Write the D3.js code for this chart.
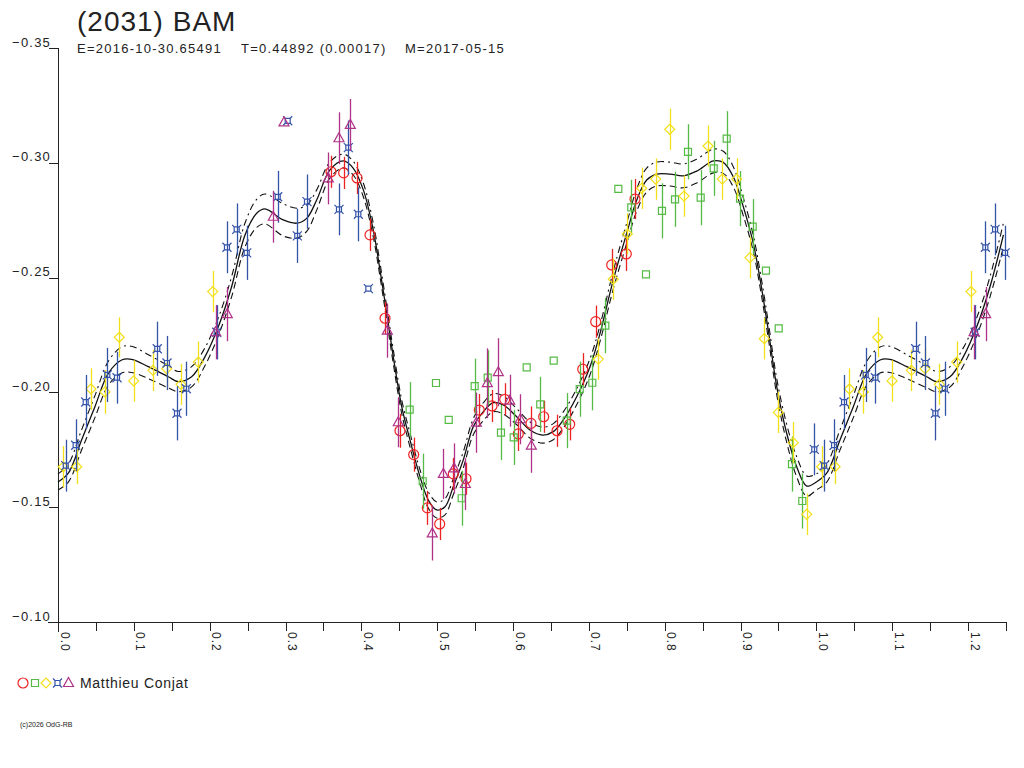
<!DOCTYPE html>
<html lang="en">
<head>
<meta charset="UTF-8">
<title>(2031) BAM</title>
<script src="https://d3js.org/d3.v7.min.js"></script>
<style>
  body { margin: 0; background: #fff; }
  svg { display: block; }
  text { font-family: "Liberation Sans", Arial, sans-serif; fill: #222; }
  .axis path, .axis line { stroke: #222; shape-rendering: crispEdges; }
</style>
</head>
<body>
<svg id="chart" width="1024" height="768"></svg>
<script>
// ---- data ----
const title = "(2031) BAM";
const subtitle = ["E=2016-10-30.65491", "T=0.44892 (0.00017)", "M=2017-05-15"];
const observer = "Matthieu Conjat";
const credit = "(c)2026 OdG-RB";

const yTicks = [-0.35, -0.30, -0.25, -0.20, -0.15, -0.10];
const xTicks = [0.0, 0.1, 0.2, 0.3, 0.4, 0.5, 0.6, 0.7, 0.8, 0.9, 1.0, 1.1, 1.2];
const xMinorTicks = [0.05, 0.15, 0.25, 0.35, 0.45, 0.55, 0.65, 0.75, 0.85, 0.95, 1.05, 1.15, 1.25];

// session points: [phase, mag, error]
const redPts = [
  [0.3600, -0.2961, 0.007], [0.3767, -0.2956, 0.007], [0.3943, -0.2934, 0.007],
  [0.4114, -0.2686, 0.007], [0.4312, -0.2323, 0.007], [0.4509, -0.1833, 0.0074],
  [0.4690, -0.1729, 0.0074], [0.4870, -0.1497, 0.0074], [0.5033, -0.1427, 0.007],
  [0.5212, -0.1645, 0.007], [0.5380, -0.1624, 0.007], [0.5555, -0.1923, 0.007],
  [0.5723, -0.1941, 0.007], [0.5890, -0.1970, 0.007], [0.6069, -0.1819, 0.0074],
  [0.6237, -0.1865, 0.0074], [0.6404, -0.1894, 0.007], [0.6580, -0.1833, 0.007],
  [0.6747, -0.1861, 0.007], [0.6919, -0.2101, 0.007], [0.7090, -0.2308, 0.007],
  [0.7301, -0.2555, 0.007], [0.7493, -0.2603, 0.0074], [0.7608, -0.2842, 0.0087]
];
const greenPts = [
  [0.4637, -0.1925, 0.012], [0.4984, -0.2041, 0], [0.5152, -0.1880, 0],
  [0.4809, -0.1613, 0.012], [0.5323, -0.1539, 0.012], [0.5494, -0.2027, 0.012],
  [0.5666, -0.2064, 0.012], [0.5841, -0.1825, 0.012], [0.6009, -0.1804, 0.012],
  [0.6180, -0.2109, 0], [0.6359, -0.1948, 0.012], [0.6536, -0.2138, 0],
  [0.6708, -0.1877, 0.012], [0.6879, -0.2014, 0.012], [0.7045, -0.2042, 0.012],
  [0.7217, -0.2291, 0.012], [0.7388, -0.2886, 0], [0.7559, -0.2806, 0.012],
  [0.7753, -0.2514, 0], [0.7964, -0.2791, 0.012], [0.8136, -0.2841, 0.012],
  [0.8307, -0.3048, 0.012], [0.8474, -0.2848, 0.012], [0.8646, -0.2976, 0.012],
  [0.8817, -0.3105, 0.012], [0.8993, -0.2844, 0.012], [0.9160, -0.2722, 0.012],
  [0.9335, -0.2530, 0], [0.9503, -0.2279, 0], [0.9678, -0.1688, 0.012],
  [0.9814, -0.1527, 0.012]
];
const yellowPts = [
  [0.0070, -0.1676, 0.009], [0.0247, -0.1676, 0.0076], [0.0435, -0.2015, 0.009],
  [0.0620, -0.2002, 0.0095], [0.0808, -0.2240, 0.0087], [0.0998, -0.2050, 0.009],
  [0.1253, -0.2096, 0.009], [0.1433, -0.2103, 0.009], [0.1622, -0.2035, 0.009],
  [0.1850, -0.2132, 0.009], [0.2040, -0.2439, 0.009], [0.7124, -0.2145, 0.009],
  [0.7322, -0.2493, 0.009], [0.7507, -0.2690, 0.009], [0.7696, -0.2889, 0.009],
  [0.7881, -0.2929, 0.009], [0.8066, -0.3146, 0.009], [0.8254, -0.2855, 0.009],
  [0.8571, -0.3073, 0.009], [0.8759, -0.2929, 0.009], [0.8949, -0.2929, 0.009],
  [0.9124, -0.2587, 0.009], [0.9313, -0.2234, 0.009], [0.9498, -0.1913, 0.009],
  [0.9695, -0.1781, 0.009], [0.9872, -0.1469, 0.009]
];
const bluePts = [
  [0.0102, -0.1681, 0.0113], [0.0233, -0.1770, 0.0113], [0.0365, -0.1958, 0.0118],
  [0.0650, -0.2076, 0.0118], [0.0778, -0.2064, 0.0113], [0.1309, -0.2190, 0.0118],
  [0.1437, -0.2128, 0.0118], [0.1569, -0.1909, 0.0118], [0.1692, -0.2016, 0.0118],
  [0.2093, -0.2262, 0.0118], [0.2228, -0.2632, 0.0113], [0.2356, -0.2710, 0.0113],
  [0.2488, -0.2608, 0.0118], [0.2897, -0.2852, 0.0113], [0.3029, -0.3183, 0],
  [0.3155, -0.2682, 0.0118], [0.3283, -0.2831, 0.0118], [0.3705, -0.2797, 0.0113],
  [0.3828, -0.3066, 0.0118], [0.3960, -0.2776, 0.0118], [0.4092, -0.2452, 0],
  [0.9972, -0.1752, 0.0113]
];
const magentaPts = [
  [0.2079, -0.2262, 0.0118], [0.2232, -0.2341, 0.0118], [0.2839, -0.2765, 0.0113],
  [0.2980, -0.3176, 0], [0.3564, -0.2932, 0.0113], [0.3705, -0.3107, 0.0113],
  [0.3854, -0.3165, 0.0113], [0.4342, -0.2269, 0.0118], [0.4487, -0.1870, 0.0109],
  [0.4935, -0.1386, 0.0118], [0.5081, -0.1645, 0.0109], [0.5222, -0.1669, 0.0109],
  [0.5371, -0.1601, 0.0113], [0.5516, -0.1868, 0.0131], [0.5661, -0.2040, 0.0152],
  [0.5806, -0.2088, 0.0148], [0.5956, -0.1964, 0.0113], [0.6096, -0.1883, 0.0109],
  [0.6241, -0.1768, 0.0118]
];

const fitPhase = [
  0.0000, 0.0136, 0.0311, 0.0487, 0.0663, 0.0839, 0.0970, 0.1191, 0.1454, 0.1586,
  0.1762, 0.1937, 0.2114, 0.2289, 0.2466, 0.2620, 0.2729, 0.2971, 0.3147, 0.3279,
  0.3411, 0.3586, 0.3762, 0.3894, 0.4026, 0.4157, 0.4246, 0.4334, 0.4421, 0.4532,
  0.4641, 0.4773, 0.4883, 0.4993, 0.5103, 0.5212, 0.5344, 0.5476, 0.5608, 0.5740,
  0.5872, 0.6048, 0.6224, 0.6391, 0.6531, 0.6663, 0.6839, 0.7015, 0.7147, 0.7322,
  0.7499, 0.7631, 0.7762, 0.7894, 0.8070, 0.8245, 0.8422, 0.8641, 0.8772, 0.8904,
  0.9036, 0.9168, 0.9270, 0.9375, 0.9477, 0.9608, 0.9740, 0.9872
];
const fitMag = [
  -0.1610, -0.1648, -0.1793, -0.1938, -0.2083, -0.2141, -0.2144, -0.2112, -0.2068, -0.2047,
  -0.2068, -0.2155, -0.2286, -0.2460, -0.2686, -0.2780, -0.2799, -0.2751, -0.2737, -0.2758,
  -0.2838, -0.2969, -0.3008, -0.2976, -0.2882, -0.2707, -0.2533, -0.2345, -0.2155, -0.1938,
  -0.1793, -0.1633, -0.1531, -0.1488, -0.1502, -0.1589, -0.1706, -0.1851, -0.1916, -0.1955,
  -0.1945, -0.1894, -0.1836, -0.1814, -0.1829, -0.1880, -0.1981, -0.2112, -0.2257, -0.2490,
  -0.2693, -0.2838, -0.2925, -0.2951, -0.2951, -0.2943, -0.2964, -0.3008, -0.3002, -0.2939,
  -0.2809, -0.2649, -0.2468, -0.2250, -0.2025, -0.1822, -0.1676, -0.1592
];
const fitBand = [
  0.0035, 0.0039, 0.0044, 0.0048, 0.0052, 0.0057, 0.0057, 0.0052, 0.0048, 0.0044,
  0.0044, 0.0039, 0.0039, 0.0044, 0.0052, 0.0061, 0.0065, 0.0070, 0.0065, 0.0057,
  0.0044, 0.0035, 0.0030, 0.0030, 0.0030, 0.0030, 0.0030, 0.0030, 0.0030, 0.0030,
  0.0030, 0.0030, 0.0035, 0.0035, 0.0035, 0.0035, 0.0035, 0.0035, 0.0039, 0.0039,
  0.0039, 0.0035, 0.0035, 0.0035, 0.0035, 0.0035, 0.0035, 0.0035, 0.0035, 0.0039,
  0.0044, 0.0048, 0.0052, 0.0052, 0.0052, 0.0052, 0.0052, 0.0052, 0.0048, 0.0044,
  0.0039, 0.0035, 0.0035, 0.0035, 0.0035, 0.0039, 0.0044, 0.0044
];

const series = [
  { pts: redPts,     color: "#ee2222", sym: "circle" },
  { pts: greenPts,   color: "#55bb44", sym: "square" },
  { pts: yellowPts,  color: "#f2e01c", sym: "diamond" },
  { pts: bluePts,    color: "#3352a8", sym: "star" },
  { pts: magentaPts, color: "#b03388", sym: "triangle" }
];

// ---- layout ----
const svg = d3.select("#chart");
const x = d3.scaleLinear().domain([0, 1.25]).range([58, 1006]);
const y = d3.scaleLinear().domain([-0.35, -0.10]).range([48, 622]);

// phases below 0.25 are repeated after 1.0
function wrap(list) {
  const out = list.slice();
  list.forEach(d => { if (d[0] + 1 <= 1.25) out.push([d[0] + 1].concat(d.slice(1))); });
  return out;
}

function symbolPath(sym) {
  if (sym === "circle") return "M5,0A5,5 0 1,1 -5,0A5,5 0 1,1 5,0Z";
  if (sym === "square") return "M-3.5,-3.5H3.5V3.5H-3.5Z";
  if (sym === "diamond") return "M0,-5L5,0L0,5L-5,0Z";
  if (sym === "triangle") return "M0,-5.5L5,3.5H-5Z";
  // little square with corner spikes
  return "M-2.5,-2.5H2.5V2.5H-2.5Z M-2.5,-2.5L-4.5,-4.5 M2.5,-2.5L4.5,-4.5 M2.5,2.5L4.5,4.5 M-2.5,2.5L-4.5,4.5";
}

// ---- title ----
svg.append("text").attr("x", 77).attr("y", 31)
  .style("font-size", "28px").style("letter-spacing", "1px").text(title);
[77, 241, 405].forEach((px, i) => {
  svg.append("text").attr("x", px).attr("y", 53)
    .style("font-size", "13px").style("letter-spacing", "1.25px").text(subtitle[i]);
});

// ---- axes ----
const yAxis = svg.append("g").attr("class", "axis")
  .attr("transform", "translate(58,0)")
  .call(d3.axisLeft(y).tickValues(yTicks).tickSize(9).tickPadding(0)
    .tickFormat(d3.format(".2f")));
yAxis.select(".domain").remove();
yAxis.append("line").attr("x1", 0).attr("x2", 0).attr("y1", 48).attr("y2", 632)
  .attr("stroke", "#222").style("shape-rendering", "crispEdges");
yAxis.selectAll("text")
  .attr("x", -7).attr("dy", "-0.15em")
  .style("font-size", "13px").style("letter-spacing", "1.2px")
  .style("font-family", "Liberation Sans, Arial, sans-serif").attr("fill", "#222");

const xAxis = svg.append("g").attr("class", "axis")
  .attr("transform", "translate(0,622)")
  .call(d3.axisBottom(x).tickValues(xTicks.concat(xMinorTicks)).tickSize(9)
    .tickSizeOuter(0).tickFormat(d => xTicks.includes(d) ? d3.format(".1f")(d) : ""));
xAxis.select(".domain").attr("d", "M48,0.5H1006");
xAxis.selectAll("text")
  .attr("transform", "rotate(90)")
  .attr("y", -2).attr("x", 10).attr("dy", "0")
  .style("text-anchor", "start")
  .style("font-size", "12px").style("letter-spacing", "1px")
  .style("font-family", "Liberation Sans, Arial, sans-serif").attr("fill", "#222");

// ---- fit curve and band ----
const fit = fitPhase.map((p, i) => [p, fitMag[i], fitBand[i]]);
const fitAll = fit.concat([[1.0, fitMag[0], fitBand[0]]])
  .concat(fit.filter(d => d[0] > 0 && d[0] <= 0.25).map(d => [d[0] + 1, d[1], d[2]]));
const line = d3.line().curve(d3.curveCatmullRom);
const plot = svg.append("g");
plot.append("path")
  .attr("d", line(fitAll.map(d => [x(d[0]), y(d[1])])))
  .attr("fill", "none").attr("stroke", "#111").attr("stroke-width", 1.3);
plot.append("path")
  .attr("d", line(fitAll.map(d => [x(d[0]), y(d[1] - d[2])])))
  .attr("fill", "none").attr("stroke", "#111").attr("stroke-width", 1.1)
  .attr("stroke-dasharray", "7,4,2,4");
plot.append("path")
  .attr("d", line(fitAll.map(d => [x(d[0]), y(d[1] + d[2])])))
  .attr("fill", "none").attr("stroke", "#111").attr("stroke-width", 1.1)
  .attr("stroke-dasharray", "7,4");

// ---- observations ----
series.forEach(s => {
  const g = plot.append("g");
  const pts = wrap(s.pts);
  g.selectAll("line").data(pts.filter(d => d[2] > 0)).enter().append("line")
    .attr("x1", d => Math.round(x(d[0])) + 0.5).attr("x2", d => Math.round(x(d[0])) + 0.5)
    .attr("y1", d => y(d[1] - d[2])).attr("y2", d => y(d[1] + d[2]))
    .attr("stroke", s.color).attr("stroke-width", 1.3);
  g.selectAll("path").data(pts).enter().append("path")
    .attr("transform", d => `translate(${x(d[0])},${y(d[1])})`)
    .attr("d", symbolPath(s.sym))
    .attr("fill", "none").attr("stroke", s.color).attr("stroke-width", 1.2);
});

// ---- legend ----
const legendX = [23, 35, 46, 57.5, 68.5];
series.forEach((s, i) => {
  svg.append("path").attr("transform", `translate(${legendX[i]},683)`)
    .attr("d", symbolPath(s.sym))
    .attr("fill", "none").attr("stroke", s.color).attr("stroke-width", 1.2);
});
svg.append("text").attr("x", 80).attr("y", 688)
  .style("font-size", "14px").style("letter-spacing", "0.7px").text(observer);

svg.append("text").attr("x", 20).attr("y", 727)
  .style("font-size", "7px").text(credit);
</script>
</body>
</html>
